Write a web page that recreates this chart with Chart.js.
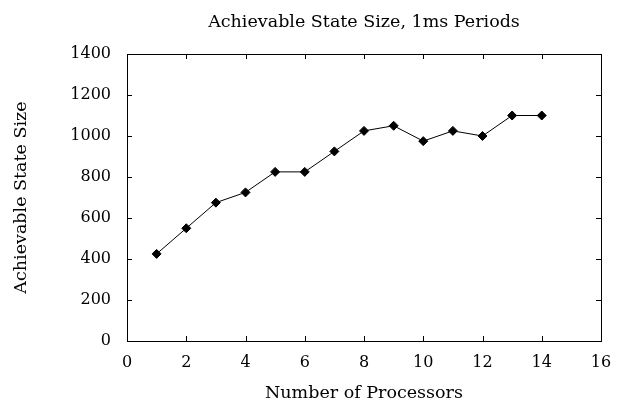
<!DOCTYPE html>
<html>
<head>
<meta charset="utf-8">
<script src="https://cdn.jsdelivr.net/npm/chart.js@4.4.1/dist/chart.umd.min.js"></script>
<style>
  html, body { margin: 0; padding: 0; background: #fff; }
</style>
</head>
<body>
<canvas id="chart" width="626" height="405"></canvas>
<script>
// data
const processors = [1, 2, 3, 4, 5, 6, 7, 8, 9, 10, 11, 12, 13, 14];
const stateSize = [425, 550, 675, 725, 825, 825, 925, 1025, 1050, 975, 1025, 1000, 1100, 1100];
const xTickValues = [0, 2, 4, 6, 8, 10, 12, 14, 16];
const yTickValues = [0, 200, 400, 600, 800, 1000, 1200, 1400];

const FONT = 'DejaVu Serif';
const TICK_SIZE = 16;
const TITLE_SIZE = 17.5;

// gnuplot style box with inward ticks on all four sides
const frameTicks = {
    id: 'frameTicks',
    afterLayout(chart) {
        // centre the title over the plot box, not the whole canvas
        const t = chart.titleBlock;
        if (t) { t.left = chart.chartArea.left; t.right = chart.chartArea.right; }
    },
    beforeDatasetsDraw(chart) {
        const { ctx, chartArea: a, scales } = chart;
        const len = 5;
        ctx.save();
        ctx.strokeStyle = '#000';
        ctx.lineWidth = 1;
        ctx.beginPath();
        xTickValues.forEach(v => {
            const px = Math.round(scales.x.getPixelForValue(v)) + 0.5;
            ctx.moveTo(px, a.bottom); ctx.lineTo(px, a.bottom - len);
            ctx.moveTo(px, a.top); ctx.lineTo(px, a.top + len);
        });
        yTickValues.forEach(v => {
            const py = Math.round(scales.y.getPixelForValue(v)) + 0.5;
            ctx.moveTo(a.left, py); ctx.lineTo(a.left + len, py);
            ctx.moveTo(a.right, py); ctx.lineTo(a.right - len, py);
        });
        ctx.stroke();
        ctx.strokeRect(Math.round(a.left) + 0.5, Math.round(a.top) + 0.5,
            Math.round(a.right - a.left), Math.round(a.bottom - a.top));
        ctx.restore();
    }
};

new Chart(document.getElementById('chart'), {
    type: 'line',
    data: {
        datasets: [{
            data: processors.map((p, i) => ({ x: p, y: stateSize[i] })),
            borderColor: '#000',
            borderWidth: 1,
            backgroundColor: '#000',
            pointStyle: 'rectRot',
            pointRadius: 4.5,
            pointBackgroundColor: '#000',
            pointBorderColor: '#000',
            tension: 0,
            fill: false
        }]
    },
    options: {
        responsive: false,
        animation: false,
        devicePixelRatio: 1,
        layout: { padding: { left: 0, right: 25, top: 0, bottom: 0 } },
        plugins: {
            legend: { display: false },
            tooltip: { enabled: false },
            title: {
                display: true,
                text: 'Achievable State Size, 1ms Periods',
                color: '#000',
                font: { family: FONT, size: TITLE_SIZE, weight: 'normal' },
                padding: { top: 11.5, bottom: 21.5 }
            }
        },
        scales: {
            x: {
                type: 'linear',
                min: 0,
                max: 16,
                afterFit(scale) { scale.height = 64; },
                grid: { display: false, drawTicks: false },
                border: { display: false },
                ticks: {
                    stepSize: 2,
                    padding: 12,
                    color: '#000',
                    font: { family: FONT, size: TICK_SIZE },
                    callback: v => String(v)
                },
                title: {
                    display: true,
                    text: 'Number of Processors',
                    color: '#000',
                    font: { family: FONT, size: TITLE_SIZE },
                    padding: { top: 0, bottom: 1 }
                }
            },
            y: {
                min: 0,
                max: 1400,
                afterFit(scale) { scale.width = 127; },
                grid: { display: false, drawTicks: false },
                border: { display: false },
                ticks: {
                    stepSize: 200,
                    padding: 16,
                    color: '#000',
                    font: { family: FONT, size: TICK_SIZE },
                    callback: v => String(v)
                },
                title: {
                    display: true,
                    text: 'Achievable State Size',
                    color: '#000',
                    font: { family: FONT, size: TITLE_SIZE },
                    padding: { top: 11, bottom: 0 }
                }
            }
        }
    },
    plugins: [frameTicks]
});
</script>
</body>
</html>
